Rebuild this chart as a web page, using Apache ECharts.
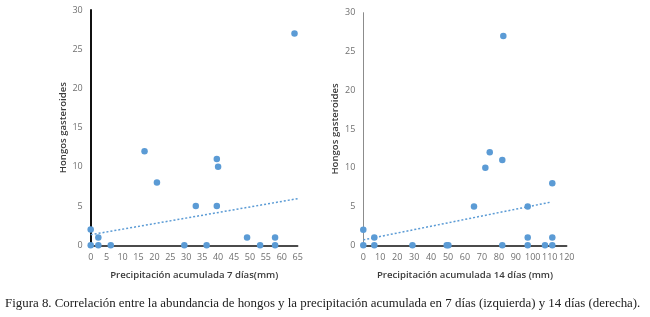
<!DOCTYPE html>
<html>
<head>
<meta charset="utf-8">
<script src="https://cdn.jsdelivr.net/npm/echarts@6/dist/echarts.min.js"></script>
<style>html,body{margin:0;padding:0;background:#fff}#c{width:650px;height:317px}</style>
</head>
<body>
<div id="c"></div>
<script>
// Left chart: 7-day accumulated precipitation
const precip7 = [0, 0, 2.4, 2.4, 6.3, 16.9, 20.8, 29.4, 33, 36.4, 39.6, 40, 39.6, 49.1, 53.2, 57.9, 57.9, 64];
const hongos7 = [2, 0, 1, 0, 0, 12, 8, 0, 5, 0, 11, 10, 5, 1, 0, 1, 0, 27];
const trend7X = [0, 65];
const trend7Y = [1.35, 5.95];
// Right chart: 14-day accumulated precipitation
const precip14 = [0, 0, 6.5, 6.5, 29, 49.2, 50.2, 65.3, 72, 74.6, 82, 82, 82.6, 97, 97, 97, 107.2, 111.5, 111.5, 111.5];
const hongos14 = [2, 0, 1, 0, 0, 0, 0, 5, 10, 12, 11, 0, 27, 5, 1, 0, 0, 8, 1, 0];
const trend14X = [0, 110.2];
const trend14Y = [0.7, 5.55];
const xTitles = ['Precipitación acumulada 7 días(mm)', 'Precipitación acumulada 14 días (mm)'];
const yTitle = 'Hongos gasteroides';
const caption = 'Figura 8. Correlación entre la abundancia de hongos y la precipitación acumulada en 7 días (izquierda) y 14 días (derecha).';

const pairs = (xs, ys) => xs.map((x, i) => [x, ys[i]]);
const blue = '#5B9BD5';
const tickLabel = {color: '#707070', fontSize: 9, fontFamily: 'Open Sans', margin: 8};
const nameStyle = {color: '#3a3a3a', fontSize: 9.6, fontWeight: 600, fontFamily: 'Open Sans'};

const chart = echarts.init(document.getElementById('c'), null, {renderer: 'canvas'});
chart.setOption({
  animation: false,
  grid: [
    {left: 90.7, top: 10, width: 207, height: 235.3},
    {left: 363.3, top: 12.7, width: 203.4, height: 232.6}
  ],
  xAxis: [
    {gridIndex: 0, type: 'value', min: 0, max: 65, interval: 5,
     name: xTitles[0], nameLocation: 'middle', nameGap: 25, nameTextStyle: nameStyle,
     axisLine: {lineStyle: {color: '#111', width: 1.5}}, axisTick: {show: false},
     axisLabel: tickLabel, splitLine: {show: false}},
    {gridIndex: 1, type: 'value', min: 0, max: 120, interval: 10,
     name: xTitles[1], nameLocation: 'middle', nameGap: 25, nameTextStyle: nameStyle,
     axisLine: {lineStyle: {color: '#111', width: 1.5}}, axisTick: {show: false},
     axisLabel: tickLabel, splitLine: {show: false}}
  ],
  yAxis: [
    {gridIndex: 0, type: 'value', min: 0, max: 30, interval: 5,
     name: yTitle, nameLocation: 'middle', nameGap: 22, nameTextStyle: nameStyle,
     axisLine: {show: true, lineStyle: {color: '#111', width: 2}}, axisTick: {show: false},
     axisLabel: tickLabel, splitLine: {show: false}},
    {gridIndex: 1, type: 'value', min: 0, max: 30, interval: 5,
     name: yTitle, nameLocation: 'middle', nameGap: 23, nameTextStyle: nameStyle,
     axisLine: {show: true, lineStyle: {color: '#8c8c8c', width: 1}}, axisTick: {show: false},
     axisLabel: tickLabel, splitLine: {show: false}}
  ],
  series: [
    {type: 'line', xAxisIndex: 0, yAxisIndex: 0, data: pairs(trend7X, trend7Y), symbol: 'none',
     lineStyle: {color: blue, width: 1.5, type: [2, 2]}, z: 1},
    {type: 'scatter', xAxisIndex: 0, yAxisIndex: 0, data: pairs(precip7, hongos7),
     symbolSize: 6.5, itemStyle: {color: blue, opacity: 1}, z: 3},
    {type: 'line', xAxisIndex: 1, yAxisIndex: 1, data: pairs(trend14X, trend14Y), symbol: 'none',
     lineStyle: {color: blue, width: 1.5, type: [2, 2]}, z: 1},
    {type: 'scatter', xAxisIndex: 1, yAxisIndex: 1, data: pairs(precip14, hongos14),
     symbolSize: 6.5, itemStyle: {color: blue, opacity: 1}, z: 3}
  ],
  graphic: [
    {type: 'text', left: 5, top: 297,
     style: {text: caption, font: '12.9px "Liberation Serif"', fill: '#222'}}
  ]
});
</script>
</body>
</html>
